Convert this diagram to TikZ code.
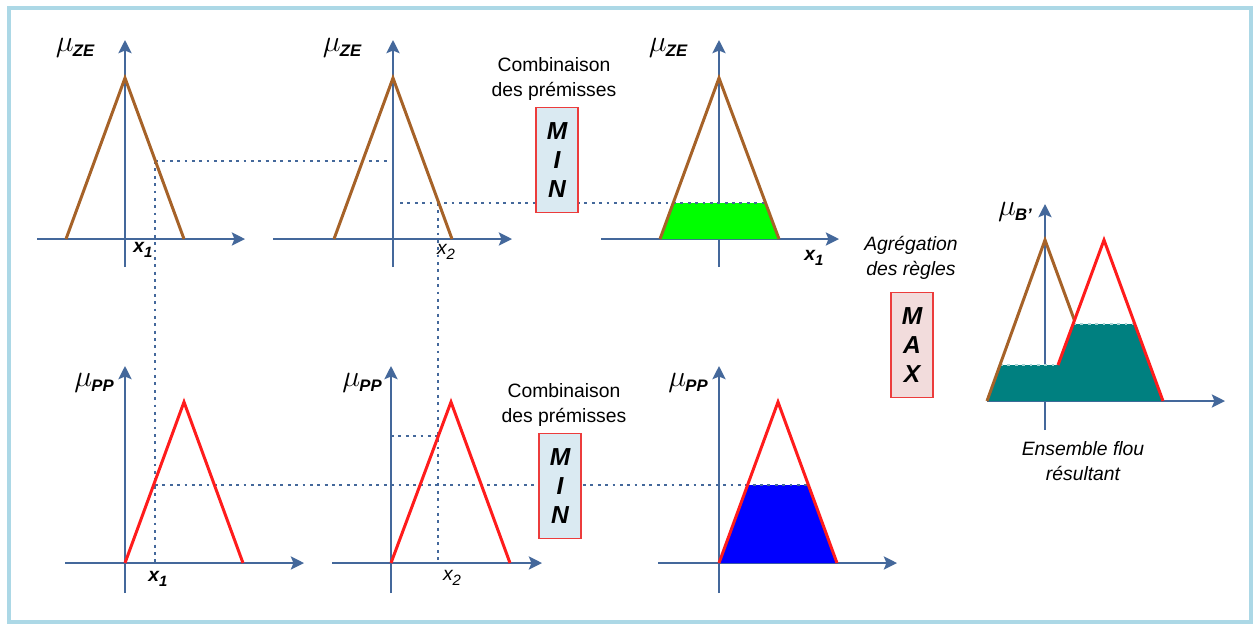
\documentclass[tikz,border=0pt]{standalone}
\usepackage{fontspec}
\setmainfont{Liberation Sans}
\usetikzlibrary{arrows.meta}
\definecolor{axisblue}{RGB}{68,104,155}
\definecolor{mfbrown}{RGB}{166,98,40}
\definecolor{mfred}{RGB}{255,28,28}
\definecolor{boxred}{RGB}{236,60,60}
\definecolor{minfill}{RGB}{218,234,242}
\definecolor{maxfill}{RGB}{242,220,220}
\definecolor{framecol}{RGB}{172,216,230}
\definecolor{cutgreen}{RGB}{0,255,0}
\definecolor{cutblue}{RGB}{0,0,255}
\definecolor{aggteal}{RGB}{0,128,128}
\newcommand{\mulab}[1]{{\fontsize{17}{17}\selectfont$\mu$}\kern-0.5pt\raisebox{-3pt}{\fontsize{9.5}{10}\selectfont\bfseries\itshape #1}}
\newcommand{\xsub}[2]{x\raisebox{-2.5pt}{\fontsize{8.5}{9}\selectfont #2}}
\tikzset{
  axis/.style={draw=axisblue, line width=1.2pt, -{Stealth[length=7.5pt, width=7.5pt, inset=1.5pt]}},
  mf/.style={draw=#1, line width=1.7pt, line join=miter},
  guide/.style={draw=axisblue, line width=0.6pt, dash pattern=on 1.6pt off 2.6pt},
  opbox/.style={draw=boxred, line width=0.8pt, fill=#1, minimum width=0.84cm, minimum height=2.1cm, inner sep=0pt, align=center, font=\fontsize{14}{16.5}\selectfont\bfseries\itshape},
  lbl/.style={font=\fontsize{11}{14.5}\selectfont, align=center, inner sep=0pt},
  xlbl/.style={font=\fontsize{11}{12}\selectfont\itshape, inner sep=0pt}
}

\begin{document}
\begin{tikzpicture}[x=0.02cm, y=-0.02cm]
  \useasboundingbox (0,0) rectangle (1258,627);
  \draw[framecol, line width=2pt] (9,8) rectangle (1251,622);

  % axes: origin x / origin y / left / right / below / above
  \foreach \ox/\oy/\xa/\xb/\ya/\yb in {125/239/88/120/28/199, 393/239/120/119/28/199,
      719/239/118/120/28/199, 125/563/60/179/30/197, 391/563/59/151/30/197,
      719/563/61/178/30/197, 1045/401/58/180/29/197}{
    \draw[axis] ({\ox-\xa},\oy) -- ({\ox+\xb},\oy);
    \draw[axis] (\ox,{\oy+\ya}) -- (\ox,{\oy-\yb});
  }

  % points
  \coordinate (a1) at (155,161);
  \coordinate (a1end) at (388,161);
  \coordinate (a1foot) at (155,563);
  \coordinate (b2) at (438,203);
  \coordinate (b2start) at (400,203);
  \coordinate (b2foot) at (438,563);
  \coordinate (e2) at (438,436);
  \coordinate (e2start) at (391,436);
  \coordinate (d1) at (155,485);
  \coordinate (cutC) at (765,203);
  \coordinate (cutF) at (809,485);

  % cuts
  \fill[cutgreen] (660,239) -- (673,203) -- (765,203) -- (779,239) -- cycle;
  \fill[cutblue] (719,563) -- (747,485) -- (809,485) -- (837,563) -- cycle;
  \fill[aggteal] (987,401) -- (1000,365) -- (1058,365) -- (1073,324) -- (1135,324) -- (1163,401) -- cycle;

  % guide lines
  \draw[guide] (a1) -- (a1end);
  \draw[guide] (a1) -- (a1foot);
  \draw[guide] (b2) -- (b2foot);
  \draw[guide] (b2start) -- (cutC);
  \draw[guide] (e2start) -- (e2);
  \draw[guide] (d1) -- (cutF);
  \draw[guide, draw=white!65!aggteal] (1000,365) -- (1058,365);
  \draw[guide, draw=white!65!aggteal] (1073,324) -- (1135,324);

  % membership functions
  \draw[mf=mfbrown] (66,239) -- (125,78) -- (184,239);
  \draw[mf=mfbrown] (334,239) -- (393,78) -- (452,239);
  \draw[mf=mfbrown] (660,239) -- (719,78) -- (779,239);
  \draw[mf=mfred] (125,563) -- (184,402) -- (243,563);
  \draw[mf=mfred] (391,563) -- (451,402) -- (510,563);
  \draw[mf=mfred] (719,563) -- (778,402) -- (837,563);
  \draw[mf=mfbrown] (987,401) -- (1045,240) -- (1074.5,320.5);
  \draw[mf=mfred] (1058,365) -- (1104,240) -- (1163,401);

  % axis labels
  \node (muA) at (75,48) {\mulab{ZE}};
  \node (muB) at (342,48) {\mulab{ZE}};
  \node (muC) at (668,48) {\mulab{ZE}};
  \node (muD) at (94,383) {\mulab{PP}};
  \node (muE) at (362,383) {\mulab{PP}};
  \node (muF) at (688,383) {\mulab{PP}};
  \node (muG) at (1015,212) {\mulab{B'}};
  \node[xlbl, font=\fontsize{11}{12}\selectfont\bfseries\itshape] (xA) at (143,250) {\xsub{x}{1}};
  \node[xlbl] (xB) at (446,252) {\xsub{x}{2}};
  \node[xlbl, font=\fontsize{11}{12}\selectfont\bfseries\itshape] (xC) at (814,258) {\xsub{x}{1}};
  \node[xlbl, font=\fontsize{11}{12}\selectfont\bfseries\itshape] (xD) at (158,579) {\xsub{x}{1}};
  \node[xlbl] (xE) at (452,578) {\xsub{x}{2}};

  % operators
  \node[opbox=minfill] (minTop) at (557,160) {M\\I\\N};
  \node[opbox=minfill] (minBot) at (560,486) {M\\I\\N};
  \node[opbox=maxfill] (maxAgg) at (912,345) {M\\A\\X};
  \node[lbl] (combTop) at (554,79) {Combinaison\\des prémisses};
  \node[lbl] (combBot) at (564,405) {Combinaison\\des prémisses};
  \node[lbl, font=\fontsize{11}{14.5}\selectfont\itshape] (aggText) at (911,258) {Agrégation\\des règles};
  \node[lbl, font=\fontsize{11}{14.5}\selectfont\itshape] (resText) at (1083,461) {Ensemble flou\\résultant};
\end{tikzpicture}
\end{document}
